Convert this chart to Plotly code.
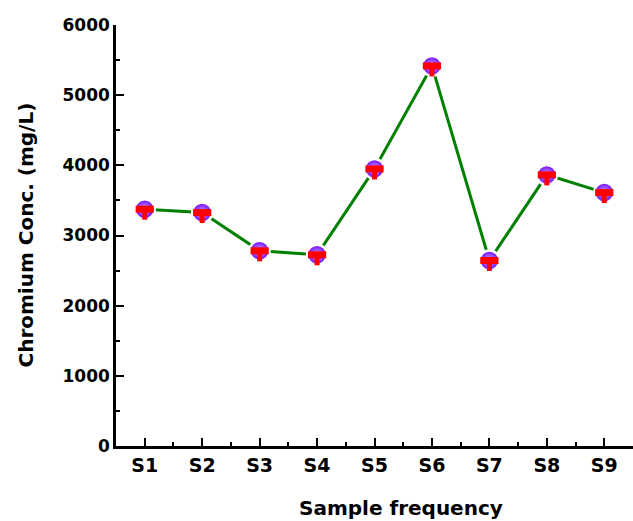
import plotly.graph_objects as go

categories = ["S1", "S2", "S3", "S4", "S5", "S6", "S7", "S8", "S9"]
chromium = [3375, 3327, 2782, 2725, 3949, 5417, 2644, 3864, 3612]
x_pos = list(range(1, len(categories) + 1))
y_ticks = [0, 1000, 2000, 3000, 4000, 5000, 6000]

FONT = "DejaVu Sans, Arial, sans-serif"

fig = go.Figure()

# green line with purple spheres
fig.add_trace(go.Scatter(
    x=x_pos, y=chromium, mode="lines+markers",
    line=dict(color="#008000", width=3),
    marker=dict(size=20, color="#7000ff",
                gradient=dict(type="radial", color="#c8a8ff"),
                line=dict(color="white", width=2.5)),
    showlegend=False, hoverinfo="skip"))

# red "T" overlay (horizontal bar + short stem)
stem = [150] * len(chromium)
fig.add_trace(go.Scatter(
    x=x_pos, y=chromium, mode="markers",
    marker=dict(symbol="line-ew", size=13, line=dict(color="#ff0000", width=7)),
    error_y=dict(type="data", symmetric=False, array=[0] * len(chromium),
                 arrayminus=stem, color="#ff0000", thickness=5, width=0),
    showlegend=False, hoverinfo="skip"))

fig.update_layout(
    width=633, height=521,
    margin=dict(l=116, r=0, t=25, b=75),
    plot_bgcolor="white", paper_bgcolor="white",
    font=dict(family=FONT, color="black"),
    xaxis=dict(
        range=[0.5, 9.5], tickvals=x_pos, ticktext=categories,
        showgrid=False, zeroline=False,
        showline=True, linecolor="black", linewidth=2.5,
        ticks="inside", ticklen=8, tickwidth=2, tickcolor="black",
        tickfont=dict(family=FONT, size=19, color="black", weight="bold"),
        minor=dict(ticks="inside", ticklen=4, tickwidth=2, tickcolor="black",
                   tick0=0.5, dtick=1),
    ),
    yaxis=dict(
        range=[0, 6000], tickvals=y_ticks,
        showgrid=False, zeroline=False,
        showline=True, linecolor="black", linewidth=2.5,
        ticks="inside", ticklen=8, tickwidth=2, tickcolor="black",
        tickfont=dict(family=FONT, size=17, color="black", weight="bold"),
        minor=dict(ticks="inside", ticklen=4, tickwidth=2, tickcolor="black",
                   tick0=0, dtick=500),
    ),
    annotations=[
        dict(text="Sample frequency", xref="paper", yref="paper",
             x=0.551, y=-0.115, xanchor="center", yanchor="top", showarrow=False,
             font=dict(family=FONT, size=20, color="black", weight="bold")),
        dict(text="Chromium Conc. (mg/L)", xref="paper", yref="paper",
             x=-0.176, y=0.5, xanchor="center", yanchor="middle", textangle=-90,
             showarrow=False,
             font=dict(family=FONT, size=20, color="black", weight="bold")),
    ],
)

fig.write_html("out.html")
